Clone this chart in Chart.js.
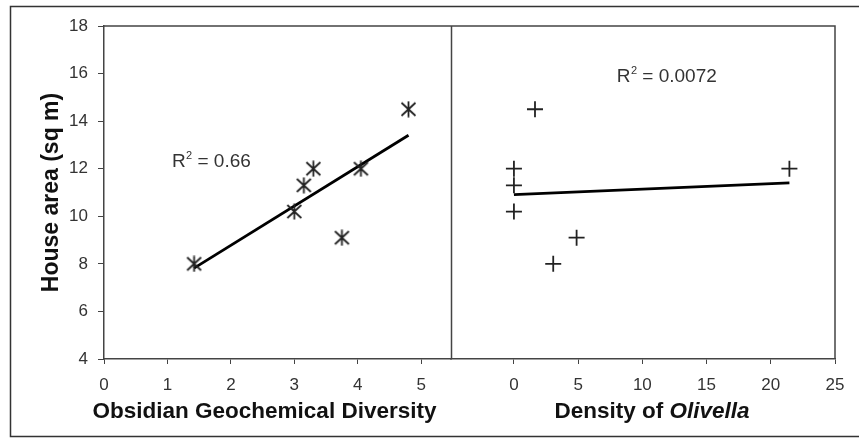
<!DOCTYPE html>
<html>
<head>
<meta charset="utf-8">
<script src="https://cdn.jsdelivr.net/npm/chart.js@4/dist/chart.umd.min.js"></script>
<style>
  html, body { margin: 0; padding: 0; background: #fff; }
  canvas { display: block; }
</style>
</head>
<body>
<canvas id="houseChart" width="859" height="438"></canvas>
<script>
// data
const diversity = [1.42, 3.0, 3.15, 3.3, 3.75, 4.05, 4.8];
const areaByDiversity = [8.0, 10.2, 11.3, 12.0, 9.1, 12.0, 14.5];
const olivella = [0, 0, 0, 1.64, 3.06, 4.88, 21.45];
const areaByOlivella = [12.0, 11.3, 10.2, 14.5, 8.0, 9.1, 12.0];

const yTicks = [4, 6, 8, 10, 12, 14, 16, 18];
const leftTicks = [0, 1, 2, 3, 4, 5];
const rightTicks = [0, 5, 10, 15, 20, 25];

// R² labels: text and anchor (data units)
const r2Left = { text: '0.66', x: 1.07, y: 12.06 };
const r2Right = { text: '0.0072', x: 8.0, y: 15.66 };

const FONT = '"Liberation Sans", Arial, sans-serif';
const INK = '#222';

function toPoints(xs, ys) {
    return xs.map((x, i) => ({ x: x, y: ys[i] }));
}

// least squares trend line between min and max x
function trend(xs, ys) {
    const n = xs.length;
    const mx = xs.reduce((a, b) => a + b, 0) / n;
    const my = ys.reduce((a, b) => a + b, 0) / n;
    let sxy = 0, sxx = 0;
    xs.forEach((x, i) => { sxy += (x - mx) * (ys[i] - my); sxx += (x - mx) * (x - mx); });
    const slope = sxy / sxx;
    const b = my - slope * mx;
    const x0 = Math.min(...xs), x1 = Math.max(...xs);
    return [{ x: x0, y: b + slope * x0 }, { x: x1, y: b + slope * x1 }];
}

// Excel style star marker: X with vertical bar
function starMarker() {
    const c = document.createElement('canvas');
    c.width = 17; c.height = 17;
    const g = c.getContext('2d');
    g.strokeStyle = INK; g.lineWidth = 1.8;
    g.beginPath();
    g.moveTo(1.5, 2); g.lineTo(15.5, 15);
    g.moveTo(15.5, 2); g.lineTo(1.5, 15);
    g.moveTo(8.5, 0.5); g.lineTo(8.5, 16.5);
    g.stroke();
    return c;
}

const framePlugin = {
    id: 'frame',
    afterDraw(chart) {
        const { ctx, chartArea: a, scales } = chart;
        ctx.save();
        // outer box
        ctx.strokeStyle = '#333'; ctx.lineWidth = 1.5;
        ctx.beginPath();
        ctx.moveTo(859, 6.5); ctx.lineTo(10.5, 6.5); ctx.lineTo(10.5, 436.5); ctx.lineTo(859, 436.5);
        ctx.stroke();
        // plot frame + divider between panels
        ctx.strokeStyle = '#444'; ctx.lineWidth = 1.5;
        ctx.beginPath();
        ctx.moveTo(a.left, a.top); ctx.lineTo(a.right, a.top); ctx.lineTo(a.right, a.bottom);
        const mid = Math.round(scales.x.right) + 0.5;
        ctx.moveTo(mid, a.top); ctx.lineTo(mid, a.bottom);
        ctx.stroke();

        // R² labels
        ctx.fillStyle = '#333';
        ctx.textBaseline = 'alphabetic';
        [[r2Left, scales.x], [r2Right, scales.x2]].forEach(([lab, xs]) => {
            let px = xs.getPixelForValue(lab.x);
            const py = scales.y.getPixelForValue(lab.y);
            ctx.font = '19px ' + FONT;
            ctx.fillText('R', px, py);
            px += ctx.measureText('R').width + 0.5;
            ctx.font = '11px ' + FONT;
            ctx.fillText('2', px, py - 8);
            px += ctx.measureText('2').width;
            ctx.font = '19px ' + FONT;
            ctx.fillText(' = ' + lab.text, px, py);
        });

        // axis titles under each panel
        ctx.fillStyle = '#111';
        ctx.textBaseline = 'middle';
        ctx.textAlign = 'center';
        ctx.font = 'bold 22.5px ' + FONT;
        const lx = (scales.x.left + scales.x.right) / 2 - 13;
        ctx.fillText('Obsidian Geochemical Diversity', lx, 412);

        const p1 = 'Density of ', p2 = 'Olivella';
        ctx.font = 'bold 22.5px ' + FONT;
        const w1 = ctx.measureText(p1).width;
        ctx.font = 'italic bold 22.5px ' + FONT;
        const w2 = ctx.measureText(p2).width;
        let rx = (scales.x2.left + scales.x2.right) / 2 + 9 - (w1 + w2) / 2;
        ctx.textAlign = 'left';
        ctx.font = 'bold 22.5px ' + FONT;
        ctx.fillText(p1, rx, 412);
        ctx.font = 'italic bold 22.5px ' + FONT;
        ctx.fillText(p2, rx + w1, 412);
        ctx.restore();
    }
};

const tickFont = { family: FONT, size: 17 };

function xAxis(min, max, step, ticks, weight) {
    return {
        type: 'linear', position: 'bottom', stack: 'panels', stackWeight: weight,
        min: min, max: max,
        afterBuildTicks: s => { s.ticks = ticks.map(v => ({ value: v })); },
        afterFit: s => { s.height = 79; },
        grid: { drawOnChartArea: false, drawTicks: true, tickLength: 5, color: '#444' },
        border: { color: '#444', width: 1.5 },
        ticks: { stepSize: step, autoSkip: false, includeBounds: false, padding: 11, color: '#333', font: tickFont, maxRotation: 0 },
        title: { display: false }
    };
}

new Chart(document.getElementById('houseChart').getContext('2d'), {
    type: 'scatter',
    data: {
        datasets: [
            {
                label: 'diversity', data: toPoints(diversity, areaByDiversity),
                xAxisID: 'x', yAxisID: 'y',
                pointStyle: starMarker(), pointRadius: 8
            },
            {
                label: 'diversity trend', data: trend(diversity, areaByDiversity),
                xAxisID: 'x', yAxisID: 'y', showLine: true,
                borderColor: '#000', borderWidth: 2.8, pointRadius: 0
            },
            {
                label: 'olivella', data: toPoints(olivella, areaByOlivella),
                xAxisID: 'x2', yAxisID: 'y',
                pointStyle: 'cross', pointRadius: 8, borderColor: INK, borderWidth: 1.8
            },
            {
                label: 'olivella trend', data: trend(olivella, areaByOlivella),
                xAxisID: 'x2', yAxisID: 'y', showLine: true,
                borderColor: '#000', borderWidth: 2.8, pointRadius: 0
            }
        ]
    },
    options: {
        responsive: false, animation: false, devicePixelRatio: 1,
        layout: { padding: { left: 0, top: 26, right: 24, bottom: 0 } },
        plugins: { legend: { display: false }, tooltip: { enabled: false } },
        scales: {
            x: xAxis(0, 5.47, 1, leftTicks, 347),
            x2: xAxis(-4.9, 25, 5, rightTicks, 384),
            y: {
                type: 'linear', position: 'left', min: 4, max: 18,
                afterBuildTicks: s => { s.ticks = yTicks.map(v => ({ value: v })); },
                afterFit: s => { s.width = 104; },
                grid: { drawOnChartArea: false, drawTicks: true, tickLength: 6, color: '#444' },
                border: { color: '#444', width: 1.5 },
                ticks: { padding: 10, color: '#333', font: tickFont },
                title: {
                    display: true, text: 'House area (sq m)', color: '#111',
                    font: { family: FONT, size: 23, weight: 'bold' },
                    padding: { top: 38, bottom: 0 }
                }
            }
        }
    },
    plugins: [framePlugin]
});
</script>
</body>
</html>
